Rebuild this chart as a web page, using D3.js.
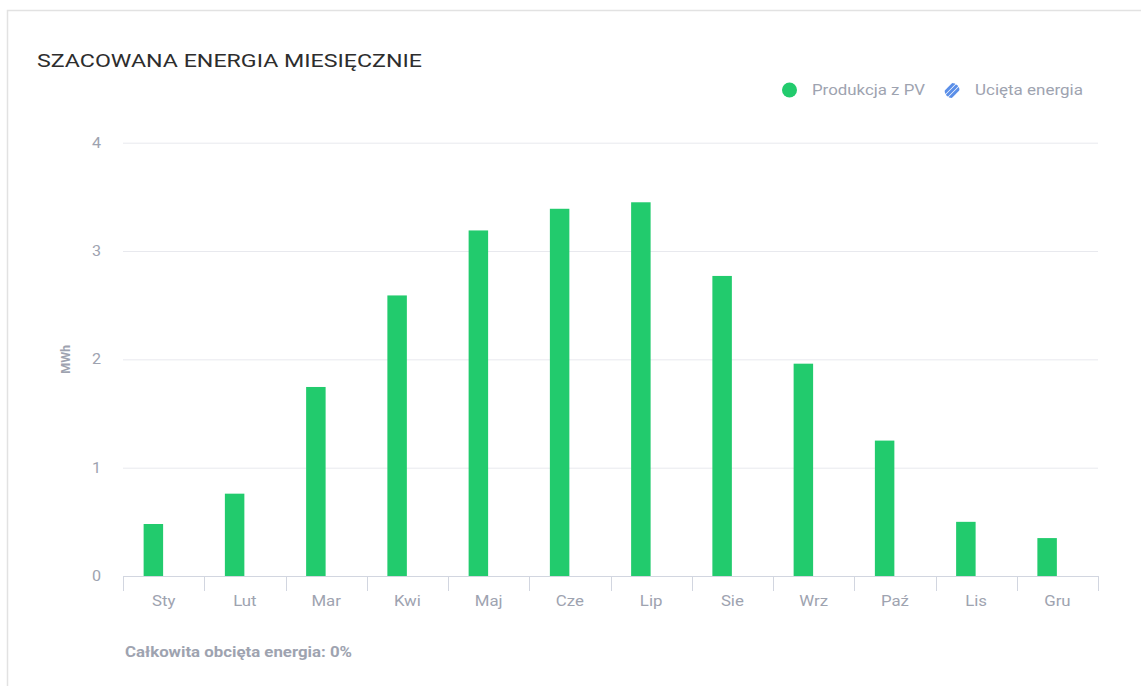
<!DOCTYPE html>
<html>
<head>
<meta charset="utf-8">
<script src="https://cdn.jsdelivr.net/npm/d3@7"></script>
<style>
  html, body { margin: 0; padding: 0; background: #ffffff; }
  svg { display: block; font-family: Roboto, "Noto Sans", sans-serif; }
</style>
</head>
<body>
<svg id="chart" width="1141" height="686"></svg>
<script>
// Monthly estimated energy (MWh)
const months = ["Sty", "Lut", "Mar", "Kwi", "Maj", "Cze", "Lip", "Sie", "Wrz", "Paź", "Lis", "Gru"];
const pvProduction = [0.48, 0.76, 1.745, 2.59, 3.19, 3.39, 3.45, 2.77, 1.96, 1.25, 0.50, 0.35];
const curtailedEnergy = [0, 0, 0, 0, 0, 0, 0, 0, 0, 0, 0, 0];
const yTicks = [0, 1, 2, 3, 4];
const seriesKeys = ["pv", "curtailed"];
const seriesLabels = ["Produkcja z PV", "Ucięta energia"];
const title = "SZACOWANA ENERGIA MIESIĘCZNIE";
const yAxisTitle = "MWh";
const footerText = "Całkowita obcięta energia: 0%";

const green = "#22cb6d";
const hatchBlue = "#5b8fe8";
const mutedText = "#9ea3b0";

const svg = d3.select("#chart");
const W = 1141, H = 686;
const margin = { left: 123, right: 43, top: 142.7, bottom: 110 };

// widen a text element horizontally by a factor
function widen(sel, factor) {
  sel.each(function () {
    const len = this.getComputedTextLength();
    d3.select(this).attr("textLength", len * factor).attr("lengthAdjust", "spacingAndGlyphs");
  });
}

// card outline
svg.append("rect")
  .attr("x", 7.5).attr("y", 10.5)
  .attr("width", W + 20).attr("height", H + 20)
  .attr("fill", "#fff").attr("stroke", "#e2e2e2").attr("stroke-width", 1.5);

// hatch pattern for curtailed energy
const defs = svg.append("defs");
const pat = defs.append("pattern")
  .attr("id", "hatch").attr("patternUnits", "userSpaceOnUse")
  .attr("width", 5).attr("height", 5)
  .attr("patternTransform", "rotate(45)");
pat.append("rect").attr("width", 2.5).attr("height", 5).attr("fill", hatchBlue);

const x = d3.scaleBand().domain(months).range([margin.left, W - margin.right]).padding(0);
const y = d3.scaleLinear().domain([0, 4]).range([H - margin.bottom, margin.top]);

// inner grouping: PV bar on the left half of each group, curtailed on the right
const groupHalf = 20;
const xInner = d3.scaleBand().domain(seriesKeys).range([0, groupHalf * 2]).paddingInner(0.05);

// title
svg.append("text")
  .attr("x", 37).attr("y", 66.5)
  .attr("fill", "#2d2d2d")
  .attr("font-size", 18.5)
  .attr("textLength", 385).attr("lengthAdjust", "spacingAndGlyphs")
  .text(title);

// horizontal gridlines
svg.append("g")
  .selectAll("line")
  .data(yTicks.filter(d => d !== 0))
  .join("line")
  .attr("x1", margin.left).attr("x2", W - margin.right)
  .attr("y1", d => y(d) + 0.5).attr("y2", d => y(d) + 0.5)
  .attr("stroke", "#e8e9ee").attr("stroke-width", 1);

// y axis labels
const yAxis = d3.axisLeft(y).tickValues(yTicks).tickSize(0).tickPadding(0).tickFormat(d3.format("d"));
const gy = svg.append("g").attr("transform", `translate(${margin.left - 22},0)`).call(yAxis);
gy.select(".domain").remove();
gy.selectAll("text")
  .attr("fill", mutedText)
  .attr("font-size", 14)
  .attr("font-family", "Roboto, sans-serif")
  .call(widen, 1.15);

// y axis title
svg.append("text")
  .attr("transform", `translate(70,${y(2)}) rotate(-90)`)
  .attr("text-anchor", "middle")
  .attr("fill", mutedText)
  .attr("font-size", 13)
  .attr("font-weight", 700)
  .attr("textLength", 29).attr("lengthAdjust", "spacingAndGlyphs")
  .text(yAxisTitle);

// bars
const rows = months.map((m, i) => ({ month: m, pv: pvProduction[i], curtailed: curtailedEnergy[i] }));
const groups = svg.append("g").selectAll("g")
  .data(rows)
  .join("g")
  .attr("transform", d => `translate(${x(d.month) + x.bandwidth() / 2 - groupHalf},0)`);

groups.selectAll("rect")
  .data(d => seriesKeys.map(k => ({ key: k, value: d[k] })))
  .join("rect")
  .attr("x", d => xInner(d.key))
  .attr("width", xInner.bandwidth())
  .attr("y", d => y(d.value))
  .attr("height", d => y(0) - y(d.value))
  .attr("fill", d => d.key === "pv" ? green : "url(#hatch)");

// x axis
const xAxis = d3.axisBottom(x).tickSize(0).tickPadding(20);
const gx = svg.append("g").attr("transform", `translate(0,${y(0)})`).call(xAxis);
gx.select(".domain").attr("stroke", "#d2d6e0").attr("stroke-width", 1.2);
gx.selectAll("text")
  .attr("fill", mutedText)
  .attr("font-size", 14)
  .attr("font-family", "Roboto, sans-serif")
  .call(widen, 1.2);

// x boundary ticks between months
const boundaries = months.map(m => x(m)).concat([x(months[months.length - 1]) + x.bandwidth()]);
svg.append("g").selectAll("line")
  .data(boundaries)
  .join("line")
  .attr("x1", d => Math.round(d) + 0.5).attr("x2", d => Math.round(d) + 0.5)
  .attr("y1", y(0)).attr("y2", y(0) + 15)
  .attr("stroke", "#d2d6e0").attr("stroke-width", 1);

// legend
const legend = svg.append("g");
legend.append("circle")
  .attr("cx", 789.5).attr("cy", 90).attr("r", 7.5)
  .attr("fill", green);
legend.append("text")
  .attr("x", 812).attr("y", 95)
  .attr("fill", mutedText).attr("font-size", 14)
  .attr("textLength", 113).attr("lengthAdjust", "spacingAndGlyphs")
  .text(seriesLabels[0]);

// striped round glyph for curtailed energy
defs.append("clipPath").attr("id", "hclip")
  .append("circle").attr("cx", 0).attr("cy", 0).attr("r", 7.5);
const hg = legend.append("g").attr("transform", "translate(952,90.5)");
const stripes = hg.append("g").attr("clip-path", "url(#hclip)");
[-5.2, 0, 5.2].forEach(o => {
  stripes.append("line")
    .attr("x1", o - 8).attr("y1", 8)
    .attr("x2", o + 8).attr("y2", -8)
    .attr("stroke", hatchBlue).attr("stroke-width", 3);
});
legend.append("text")
  .attr("x", 975).attr("y", 95)
  .attr("fill", mutedText).attr("font-size", 14)
  .attr("textLength", 108).attr("lengthAdjust", "spacingAndGlyphs")
  .text(seriesLabels[1]);

// footer
svg.append("text")
  .attr("x", 125).attr("y", 657)
  .attr("fill", mutedText)
  .attr("font-size", 14)
  .attr("font-weight", 700)
  .attr("textLength", 227).attr("lengthAdjust", "spacingAndGlyphs")
  .text(footerText);
</script>
</body>
</html>
